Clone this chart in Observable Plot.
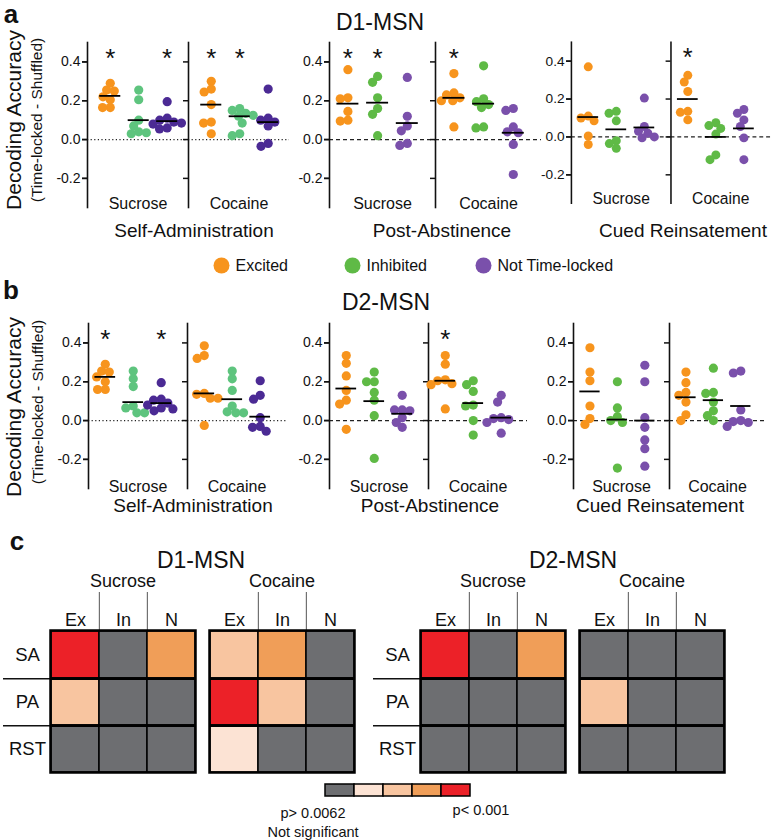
<!DOCTYPE html>
<html><head><meta charset="utf-8">
<script src="https://cdn.jsdelivr.net/npm/d3@7"></script>
<script src="https://cdn.jsdelivr.net/npm/@observablehq/plot@0.6"></script>
<style>
body{margin:0;background:#fff;}
#fig{position:relative;width:772px;height:840px;overflow:hidden;background:#fff;font-family:"Liberation Sans",Arial,sans-serif;color:#111;}
.abs{position:absolute;}
.lbl{position:absolute;transform:translate(-50%,-50%);white-space:nowrap;line-height:1;}
.rot{transform:translate(-50%,-50%) rotate(-90deg);}
</style></head><body><div id="fig"></div>
<script>
// ---------- categories ----------
const cellTypes = ["Excited", "Inhibited", "Not Time-locked"];
const conditions = ["Sucrose", "Cocaine"];
const epochs = ["Self-Administration", "Post-Abstinence", "Cued Reinsatement"];
const yTicks = [-0.2, 0, 0.2, 0.4];
const yDomain = [-0.35, 0.5];

// ---------- D1-MSN decoding accuracy (each: [Excited, Inhibited, Not time-locked]) ----------
const d1SelfAdminSucrose = [[0.29, 0.255, 0.25, 0.22, 0.205, 0.165, 0.165], [0.255, 0.205, 0.10, 0.07, 0.04, 0.03, 0.035], [0.195, 0.11, 0.10, 0.09, 0.085, 0.08, 0.06, 0.055]];
const d1SelfAdminCocaine = [[0.30, 0.26, 0.245, 0.18, 0.09, 0.085, 0.03], [0.16, 0.15, 0.135, 0.125, 0.12, 0.085, 0.03, 0.02], [0.26, 0.11, 0.10, 0.09, 0.07, -0.02, -0.035]];
const d1SelfAdminLines = [[0.225, 0.10, 0.095], [0.18, 0.12, 0.09]];
const d1PostAbstSucrose = [[0.36, 0.215, 0.21, 0.145, 0.10, 0.095], [0.325, 0.295, 0.215, 0.16, 0.13, 0.02], [0.32, 0.12, 0.07, 0.045, -0.02, -0.03]];
const d1PostAbstCocaine = [[0.34, 0.24, 0.23, 0.215, 0.20, 0.20, 0.065], [0.38, 0.21, 0.195, 0.18, 0.165, 0.065, 0.06], [0.16, 0.15, 0.065, 0.04, 0.035, -0.025, -0.18]];
const d1PostAbstLines = [[0.185, 0.19, 0.085], [0.215, 0.185, 0.035]];
const d1CuedSucrose = [[0.37, 0.11, 0.10, 0.085, 0.005, -0.04], [0.135, 0.125, 0.085, -0.02, -0.035, -0.06], [0.205, 0.055, 0.03, 0.02, 0.0, -0.005]];
const d1CuedCocaine = [[0.325, 0.29, 0.24, 0.135, 0.13, 0.09], [0.075, 0.06, 0.045, 0.015, -0.095, -0.12], [0.145, 0.125, 0.09, 0.055, -0.005, -0.12]];
const d1CuedLines = [[0.105, 0.04, 0.05], [0.20, 0.0, 0.045]];
const d1Stars = [["Self-Administration", "Sucrose", "Excited"], ["Self-Administration", "Sucrose", "Not Time-locked"], ["Self-Administration", "Cocaine", "Excited"], ["Self-Administration", "Cocaine", "Inhibited"], ["Post-Abstinence", "Sucrose", "Excited"], ["Post-Abstinence", "Sucrose", "Inhibited"], ["Post-Abstinence", "Cocaine", "Excited"], ["Cued Reinsatement", "Cocaine", "Excited"]];

// ---------- D2-MSN ----------
const d2SelfAdminSucrose = [[0.29, 0.255, 0.25, 0.225, 0.20, 0.16, 0.16], [0.255, 0.215, 0.175, 0.075, 0.065, 0.04, 0.04], [0.195, 0.11, 0.105, 0.09, 0.08, 0.065, 0.05, 0.06]];
const d2SelfAdminCocaine = [[0.385, 0.335, 0.32, 0.14, 0.135, 0.115, 0.115, -0.025], [0.255, 0.215, 0.155, 0.075, 0.045, 0.04, 0.04], [0.205, 0.13, 0.11, 0.015, -0.03, -0.035, -0.055]];
const d2SelfAdminLines = [[0.225, 0.095, 0.09], [0.14, 0.11, 0.02]];
const d2PostAbstSucrose = [[0.335, 0.295, 0.23, 0.155, 0.105, 0.085, -0.045], [0.25, 0.20, 0.20, 0.145, 0.105, 0.025, -0.195], [0.13, 0.055, 0.055, 0.05, 0.015, -0.01, -0.035]];
const d2PostAbstCocaine = [[0.335, 0.29, 0.21, 0.205, 0.19, 0.185, 0.06], [0.205, 0.185, 0.15, 0.08, 0.075, 0.0, -0.075], [0.13, 0.095, 0.015, 0.01, 0.005, -0.01, -0.065]];
const d2PostAbstLines = [[0.165, 0.10, 0.035], [0.205, 0.09, 0.015]];
const d2CuedSucrose = [[0.375, 0.25, 0.205, 0.075, 0.01, -0.02], [0.20, 0.065, 0.02, 0.0, -0.01, -0.245], [0.285, 0.20, 0.015, -0.035, -0.10, -0.145, -0.235]];
const d2CuedCocaine = [[0.25, 0.195, 0.145, 0.13, 0.095, 0.03, 0.0], [0.27, 0.145, 0.14, 0.095, 0.05, 0.025, 0.0], [0.255, 0.245, 0.055, 0.0, -0.005, -0.01, -0.03]];
const d2CuedLines = [[0.15, 0.005, 0.0], [0.12, 0.105, 0.075]];
const d2Stars = [["Self-Administration", "Sucrose", "Excited"], ["Self-Administration", "Sucrose", "Not Time-locked"], ["Post-Abstinence", "Cocaine", "Excited"]];

// ---------- panel c: significance level (0 = n.s. ... 4 = p<0.001) ----------
const heatRows = ["SA", "PA", "RST"];
const heatCols = ["Ex", "In", "N"];
const d1HeatSucrose = [[4, 0, 3], [2, 0, 0], [0, 0, 0]];
const d1HeatCocaine = [[2, 3, 0], [4, 2, 0], [1, 0, 0]];
const d2HeatSucrose = [[4, 0, 3], [0, 0, 0], [0, 0, 0]];
const d2HeatCocaine = [[0, 0, 0], [2, 0, 0], [0, 0, 0]];
const sigLevels = [0, 1, 2, 3, 4];
const sigLowLabel = ["p> 0.0062\nNot significant"];
const sigHighLabel = ["p< 0.001"];

// ---------- styles ----------
const FONT = "Liberation Sans, Arial, sans-serif";
const sigColors = ["#6d6e71", "#fce3d4", "#f8c5a0", "#f09e58", "#ec2128"];
const colorsSA = ["#f7941d", "#5ec47e", "#4b2a94"];
const colorsOther = ["#f7941d", "#5fba46", "#7a50ab"];
const svgStyle = {background: "none", overflow: "visible", fontFamily: FONT, color: "#111"};

const fig = document.getElementById("fig");
function place(node, left, top) {
  const d = document.createElement("div");
  d.className = "abs"; d.style.left = left + "px"; d.style.top = top + "px";
  d.appendChild(node); fig.appendChild(d);
}
function label(text, cx, cy, size, extra = "", cls = "lbl") {
  const d = document.createElement("div");
  d.className = cls; d.textContent = text;
  d.style.cssText += `left:${cx}px;top:${cy}px;font-size:${size}px;${extra}`;
  fig.appendChild(d);
}

// beeswarm layout in pixel space (slight overlap allowed), returned in x-scale units
function swarm(vals, r, kx, ky) {
  const placed = [], out = [], d = 2 * r - 1.5;
  for (const v of vals) {
    const y = v * ky, cands = [0];
    for (const p of placed) {
      const dy = Math.abs(p.y - y);
      if (dy < d) { const dx = Math.sqrt(d * d - dy * dy); cands.push(p.x + dx, p.x - dx); }
    }
    cands.sort((a, b) => Math.abs(a) - Math.abs(b) || a - b);
    const ok = cands.find(c => placed.every(p => (p.x - c) ** 2 + (p.y - y) ** 2 >= d * d - 1e-6));
    placed.push({x: ok, y}); out.push(ok / kx);
  }
  return out;
}

function scatter(sucrose, cocaine, lines, stars, o) {
  const R = 4.6, ML = 45, MT = 12, MB = 12, FH = 165, MR = 2;
  const kx = o.facetW / (o.xDomain[1] - o.xDomain[0]);
  const ky = FH / (yDomain[1] - yDomain[0]);
  const dots = [], means = [];
  [sucrose, cocaine].forEach((groups, ci) => {
    groups.forEach((vals, ti) => {
      const off = swarm(vals, R, kx, ky);
      vals.forEach((v, k) => dots.push({condition: conditions[ci], type: cellTypes[ti], value: v, pos: ti + off[k]}));
      means.push({condition: conditions[ci], ti, value: lines[ci][ti]});
    });
  });
  const starRows = stars.map(([, c, t]) => ({condition: c, ti: cellTypes.indexOf(t)}));
  return Plot.plot({
    width: ML + 2 * o.facetW + MR, height: MT + FH + MB,
    marginLeft: ML, marginRight: MR, marginTop: MT, marginBottom: MB,
    style: svgStyle,
    fx: {domain: conditions, padding: 0, axis: null},
    x: {domain: o.xDomain, axis: null},
    y: {domain: yDomain, label: null},
    color: {domain: cellTypes, range: o.colors},
    marks: [
      Plot.ruleY([0], {stroke: "#222", strokeWidth: 1.3, strokeDasharray: o.dash}),
      Plot.frame({anchor: "left", stroke: "#111", strokeWidth: 1.6}),
      Plot.axisY({ticks: yTicks, tickFormat: d => d.toFixed(1), tickSize: 5, tickPadding: 2, fontSize: 14, label: null, strokeWidth: 1.5}),
      Plot.axisY({ticks: yTicks, tickFormat: () => "", tickSize: 5, facetAnchor: null, label: null, strokeWidth: 1.5}),
      Plot.dot(dots, {fx: "condition", x: "pos", y: "value", r: R, fill: "type"}),
      Plot.ruleY(means, {fx: "condition", y: "value", x1: d => d.ti - 0.37, x2: d => d.ti + 0.37, stroke: "#000", strokeWidth: 1.8}),
      Plot.text(starRows, {fx: "condition", x: "ti", text: () => "*", frameAnchor: "top", dy: 6, fontSize: 26}),
      Plot.text(conditions, {fx: d => d, text: d => d, frameAnchor: "bottom", dy: o.labelDy, fontSize: 16})
    ]
  });
}

function heat(sucroseGrid, cocaineGrid) {
  const FW = 145, GAP = 14, FH = 142, ML = 50, MT = 90, MB = 4, MR = 16;
  const cells = [];
  [sucroseGrid, cocaineGrid].forEach((g, k) => g.forEach((row, ri) => row.forEach((lv, ci) =>
    cells.push({condition: conditions[k], row: heatRows[ri], col: heatCols[ci], level: lv}))));
  return Plot.plot({
    width: ML + 2 * FW + GAP + MR, height: MT + FH + MB,
    marginLeft: ML, marginRight: MR, marginTop: MT, marginBottom: MB,
    style: svgStyle,
    fx: {domain: conditions, paddingInner: GAP / (FW + GAP), paddingOuter: 0, axis: null},
    x: {domain: heatCols, padding: 0, axis: null},
    y: {domain: heatRows, padding: 0, label: null},
    color: {type: "ordinal", domain: sigLevels, range: sigColors},
    marks: [
      Plot.cell(cells, {fx: "condition", x: "col", y: "row", fill: "level", stroke: "#000", strokeWidth: 1.5}),
      Plot.ruleY(heatRows.slice(0, -1), {y: d => d, dy: FH / 6, stroke: "#000", strokeWidth: 2.5}),
      Plot.ruleY(heatRows.slice(0, -1), {fx: () => conditions[0], y: d => d, dy: FH / 6, insetLeft: -(ML - 3), insetRight: FW, stroke: "#111", strokeWidth: 1.5}),
      Plot.ruleX(heatCols.slice(1), {x: d => d, dx: -FW / 6, insetTop: -38, insetBottom: FH, stroke: "#555", strokeWidth: 1}),
      Plot.frame({stroke: "#000", strokeWidth: 2.5}),
      Plot.axisY({tickSize: 0, tickPadding: 23, textAnchor: "middle", fontSize: 18.5, label: null}),
      Plot.text(heatCols, {x: d => d, text: d => d, frameAnchor: "top", dy: -17, fontSize: 18}),
      Plot.text(conditions, {fx: d => d, text: d => d, frameAnchor: "top", dy: -56, fontSize: 18})
    ]
  });
}

// ---------- panel a ----------
label("a", 11, 14, 26, "font-weight:bold;");
label("D1-MSN", 380, 22, 23);
label("Decoding Accuracy", 13, 120, 21, "", "lbl rot");
label("(Time-locked - Shuffled)", 37, 120, 15.5, "", "lbl rot");
const aStar = e => d1Stars.filter(s => s[0] === e);
place(scatter(d1SelfAdminSucrose, d1SelfAdminCocaine, d1SelfAdminLines, aStar(epochs[0]), {facetW: 101, xDomain: [-0.8, 2.75], colors: colorsSA, dash: "1.2,2.4", labelDy: 1}), 42, 30);
place(scatter(d1PostAbstSucrose, d1PostAbstCocaine, d1PostAbstLines, aStar(epochs[1]), {facetW: 106, xDomain: [-0.62, 2.95], colors: colorsOther, dash: "4,3", labelDy: 1}), 284, 30);
place(scatter(d1CuedSucrose, d1CuedCocaine, d1CuedLines, aStar(epochs[2]), {facetW: 102, xDomain: [-0.6, 2.95], colors: colorsOther, dash: "4,3", labelDy: 1}), 527, 30);
label(epochs[0], 194, 230, 19);
label(epochs[1], 442, 230, 19);
label(epochs[2], 683, 230, 19);

// legend
place(Plot.plot({
  width: 772, height: 26, margin: 0, style: svgStyle,
  x: {type: "point", domain: cellTypes, range: [155, 548], axis: null},
  color: {domain: cellTypes, range: colorsOther},
  marks: [
    Plot.dot(cellTypes, {x: d => d, fill: d => d, r: 8, frameAnchor: "middle"}),
    Plot.text(cellTypes, {x: d => d, text: d => d, dx: 14, textAnchor: "start", frameAnchor: "middle", fontSize: 16})
  ]
}), 0, 252);

// ---------- panel b ----------
label("b", 11, 290, 26, "font-weight:bold;");
label("D2-MSN", 386, 302, 23);
label("Decoding Accuracy", 13, 407, 21, "", "lbl rot");
label("(Time-locked - Shuffled)", 38, 402, 15.5, "", "lbl rot");
const bStar = e => d2Stars.filter(s => s[0] === e);
place(scatter(d2SelfAdminSucrose, d2SelfAdminCocaine, d2SelfAdminLines, bStar(epochs[0]), {facetW: 99, xDomain: [-0.6, 2.94], colors: colorsSA, dash: "1.2,2.4", labelDy: 3}), 43, 311);
place(scatter(d2PostAbstSucrose, d2PostAbstCocaine, d2PostAbstLines, bStar(epochs[1]), {facetW: 99, xDomain: [-0.6, 2.94], colors: colorsOther, dash: "4,3", labelDy: 3}), 284, 311);
place(scatter(d2CuedSucrose, d2CuedCocaine, d2CuedLines, bStar(epochs[2]), {facetW: 96, xDomain: [-0.6, 2.9], colors: colorsOther, dash: "4,3", labelDy: 3}), 528, 311);
label(epochs[0], 193, 505, 19);
label(epochs[1], 430, 505, 19);
label(epochs[2], 660, 505, 19);

// ---------- panel c ----------
label("c", 17, 541, 26, "font-weight:bold;");
label("D1-MSN", 201, 560, 23);
label("D2-MSN", 573, 560, 23);
place(heat(d1HeatSucrose, d1HeatCocaine), 0, 540);
place(heat(d2HeatSucrose, d2HeatCocaine), 370, 540);

// colour bar
place(Plot.plot({
  width: 280, height: 66, marginLeft: 73, marginRight: 59, marginTop: 8, marginBottom: 46,
  style: svgStyle,
  x: {type: "band", domain: sigLevels, padding: 0, axis: null},
  color: {type: "ordinal", domain: sigLevels, range: sigColors},
  marks: [
    Plot.cell(sigLevels, {x: d => d, fill: d => d, stroke: "#000", strokeWidth: 1.5}),
    Plot.text(sigLowLabel, {x: () => sigLevels[0], text: d => d, frameAnchor: "bottom", lineAnchor: "top", dy: 8, dx: -27, fontSize: 14.5, lineHeight: 1.3}),
    Plot.text(sigHighLabel, {x: () => sigLevels[sigLevels.length - 1], text: d => d, frameAnchor: "bottom", lineAnchor: "top", dy: 8, dx: 25, fontSize: 14.5})
  ]
}), 250, 776);
</script></body></html>
